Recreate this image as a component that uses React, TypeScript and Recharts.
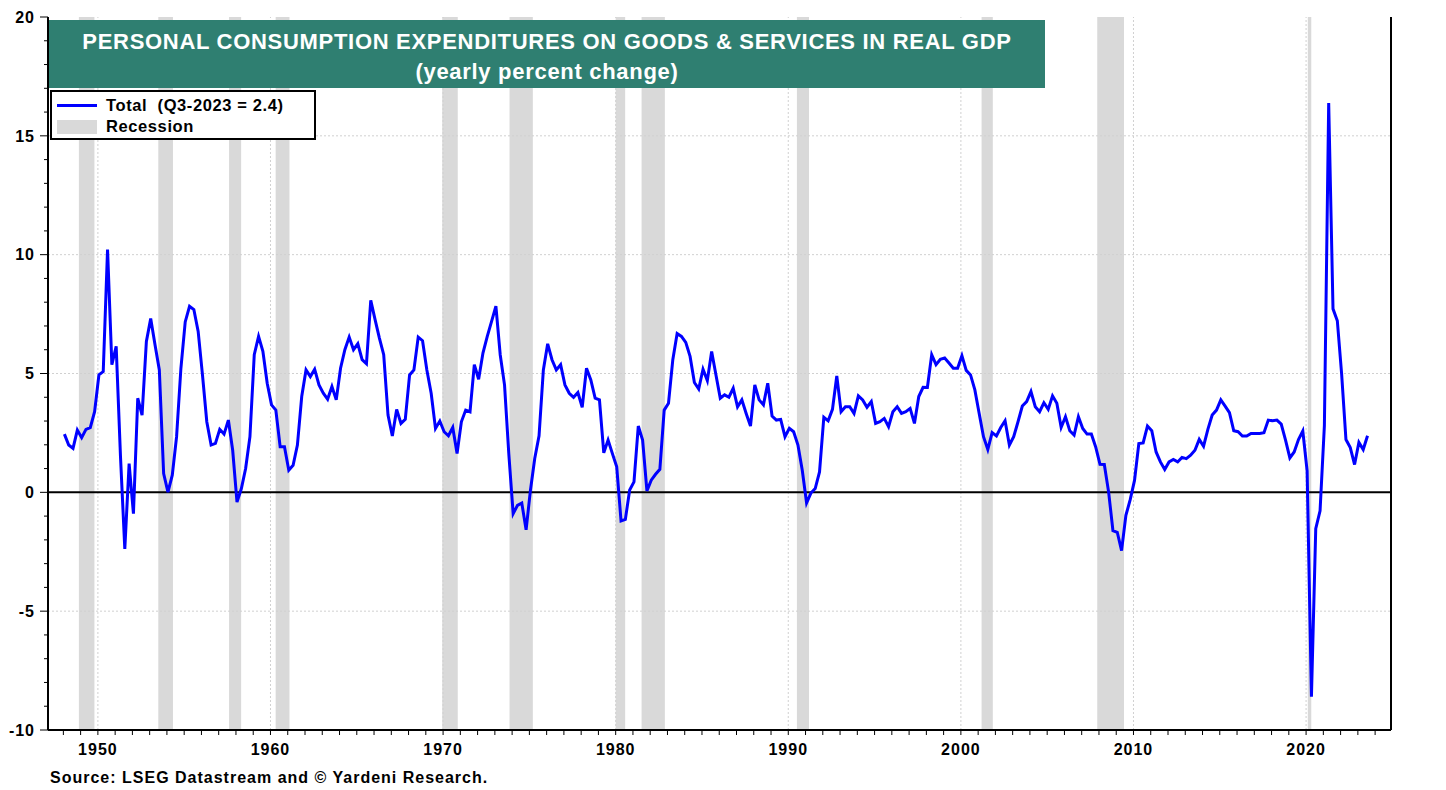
import {
  CartesianGrid,
  Line,
  LineChart,
  ReferenceArea,
  ReferenceLine,
  XAxis,
  YAxis,
} from 'recharts'

// quarterly yoy % change, 1948Q1 .. 2023Q3
const START_YEAR = 1948
const PCE_YOY = [
  2.45, 1.99, 1.85, 2.62, // 1948
  2.3, 2.65, 2.72, 3.39,
  4.94, 5.08, 10.22, 5.37, // 1950
  6.14, 1.5, -2.38, 1.21,
  -0.9, 3.96, 3.25, 6.35,
  7.31, 6.21, 5.15, 0.79,
  0.01, 0.72, 2.34, 5.22,
  7.17, 7.83, 7.69, 6.77, // 1955
  4.94, 2.97, 1.99, 2.06,
  2.65, 2.45, 3.04, 1.77,
  -0.41, 0.15, 1.0, 2.34,
  5.79, 6.56, 5.93, 4.59,
  3.68, 3.46, 1.92, 1.92, // 1960
  0.93, 1.14, 1.99, 4.03,
  5.15, 4.87, 5.18, 4.52,
  4.17, 3.92, 4.45, 3.89,
  5.22, 6.0, 6.53, 6.0,
  6.25, 5.58, 5.41, 8.08, // 1965
  7.27, 6.49, 5.79, 3.25,
  2.37, 3.49, 2.9, 3.07,
  4.94, 5.15, 6.53, 6.38,
  5.15, 4.17, 2.69, 3.0,
  2.55, 2.38, 2.73, 1.63, // 1970
  2.97, 3.46, 3.39, 5.37,
  4.76, 5.86, 6.56, 7.19,
  7.83, 5.79, 4.52, 1.6,
  -0.9, -0.55, -0.45, -1.58,
  0.08, 1.42, 2.38, 5.15, // 1975
  6.25, 5.58, 5.15, 5.37,
  4.52, 4.17, 4.0, 4.2,
  3.58, 5.22, 4.73, 3.96,
  3.89, 1.66, 2.2, 1.63,
  1.07, -1.2, -1.14, 0.1, // 1980
  0.44, 2.79, 2.2, 0.06,
  0.51, 0.76, 0.97, 3.46,
  3.75, 5.58, 6.68, 6.56,
  6.31, 5.72, 4.62, 4.35,
  5.18, 4.7, 5.93, 4.94, // 1985
  3.96, 4.1, 4.0, 4.38,
  3.6, 3.89, 3.32, 2.79,
  4.52, 3.89, 3.68, 4.59,
  3.21, 3.04, 3.07, 2.34,
  2.69, 2.55, 1.99, 0.93, // 1990
  -0.45, -0.03, 0.16, 0.86,
  3.16, 3.01, 3.49, 4.9,
  3.39, 3.6, 3.6, 3.32,
  4.06, 3.89, 3.58, 3.82,
  2.9, 2.97, 3.11, 2.76, // 1995
  3.39, 3.6, 3.32, 3.39,
  3.53, 2.9, 4.03, 4.42,
  4.41, 5.79, 5.37, 5.6,
  5.65, 5.44, 5.22, 5.22,
  5.75, 5.13, 4.94, 4.31, // 2000
  3.32, 2.34, 1.8, 2.51,
  2.37, 2.73, 3.01, 1.99,
  2.34, 2.97, 3.63, 3.82,
  4.24, 3.6, 3.39, 3.77,
  3.49, 4.06, 3.75, 2.73, // 2005
  3.18, 2.59, 2.41, 3.18,
  2.69, 2.45, 2.45, 1.91,
  1.18, 1.17, 0.01, -1.61,
  -1.68, -2.45, -0.97, -0.31,
  0.5, 2.05, 2.08, 2.79, // 2010
  2.59, 1.7, 1.28, 0.96,
  1.28, 1.38, 1.28, 1.47,
  1.42, 1.56, 1.77, 2.23,
  1.94, 2.65, 3.25, 3.46,
  3.89, 3.63, 3.35, 2.59, // 2015
  2.55, 2.37, 2.37, 2.48,
  2.48, 2.48, 2.51, 3.04,
  3.01, 3.04, 2.87, 2.2,
  1.45, 1.7, 2.22, 2.58,
  0.9, -8.6, -1.53, -0.78, // 2020
  2.8, 16.38, 7.72, 7.22,
  4.97, 2.22, 1.88, 1.17,
  2.1, 1.8, 2.38,
]

// recession periods (fractional years)
const RECESSION_START = [1948.9, 1953.5, 1957.6, 1960.3, 1969.95, 1973.85, 1980.0, 1981.5, 1990.5, 2001.2, 2007.9, 2020.1]
const RECESSION_END = [1949.8, 1954.35, 1958.3, 1961.1, 1970.85, 1975.2, 1980.55, 1982.85, 1991.2, 2001.85, 2009.45, 2020.3]

const YEAR_TICKS = Array.from({ length: 2024 - 1948 + 1 }, (_, i) => 1948 + i)
const DECADES = [1950, 1960, 1970, 1980, 1990, 2000, 2010, 2020]
const VALUE_TICKS = Array.from({ length: 31 }, (_, i) => -10 + i)
const GRID_VALUES = [-5, 5, 10, 15]

const chartData = PCE_YOY.map((v, i) => ({
  x: START_YEAR + Math.floor(i / 4) + (i % 4) * 0.25 + 0.06,
  v,
}))

const FONT = '"Liberation Sans", Arial, sans-serif'
const labelStyle = { fill: '#000', fontSize: 16, fontWeight: 'bold', fontFamily: FONT, letterSpacing: 1 }

// y-axis tick: long mark + label every 5, short mark otherwise
const ValueTick = ({ x, y, payload, side }: any) => {
  const major = payload.value % 5 === 0
  const len = major ? 8 : 4
  const dir = side === 'left' ? -1 : 1
  return (
    <g>
      <line x1={x} x2={x + dir * len} y1={y} y2={y} stroke="#000" strokeWidth={1} />
      {major && (
        <text
          x={x + dir * (side === 'left' ? 13 : 11)}
          y={y}
          dy="0.36em"
          textAnchor={side === 'left' ? 'end' : 'start'}
          {...labelStyle}
        >
          {payload.value}
        </text>
      )}
    </g>
  )
}

export default function App() {
  return (
    <div style={{ position: 'relative', width: 1446, height: 790, background: '#fff', fontFamily: FONT }}>
      <style>{'body{margin:0}'}</style>
      <LineChart width={1446} height={790} data={chartData} margin={{ top: 17, right: 10, bottom: 20, left: 8 }}>
        <CartesianGrid stroke="none" />
        {RECESSION_START.map((s, i) => (
          <ReferenceArea key={`rec-${i}`} yAxisId="l" x1={s} x2={RECESSION_END[i]} fill="#d9d9d9" fillOpacity={1} stroke="none" />
        ))}
        {GRID_VALUES.map((g) => (
          <ReferenceLine key={`gy-${g}`} yAxisId="l" y={g} stroke="#d0d0d0" strokeDasharray="2 2" />
        ))}
        {DECADES.map((d) => (
          <ReferenceLine key={`gx-${d}`} yAxisId="l" x={d} stroke="#d0d0d0" strokeDasharray="2 2" />
        ))}
        <ReferenceLine yAxisId="l" y={0} stroke="#000" strokeWidth={2} />
        <XAxis
          type="number"
          dataKey="x"
          domain={[1947.11, 2024.92]}
          ticks={YEAR_TICKS}
          interval={0}
          tickFormatter={(t: number) => (t % 10 === 0 ? String(t) : '')}
          tick={labelStyle}
          tickSize={5}
          tickMargin={9}
          height={40}
          axisLine={{ stroke: '#000', strokeWidth: 2 }}
          tickLine={{ stroke: '#000' }}
        />
        <YAxis
          yAxisId="l"
          domain={[-10, 20]}
          ticks={VALUE_TICKS}
          interval={0}
          tick={<ValueTick side="left" />}
          tickSize={0}
          tickMargin={0}
          tickLine={false}
          width={40}
          axisLine={{ stroke: '#000', strokeWidth: 2 }}
        />
        <YAxis
          yAxisId="r"
          orientation="right"
          domain={[-10, 20]}
          ticks={VALUE_TICKS}
          interval={0}
          tick={<ValueTick side="right" />}
          tickSize={0}
          tickMargin={0}
          tickLine={false}
          width={45}
          axisLine={{ stroke: '#000', strokeWidth: 2 }}
        />
        <Line
          yAxisId="l"
          type="linear"
          dataKey="v"
          stroke="#0000ff"
          strokeWidth={3}
          dot={false}
          isAnimationActive={false}
        />
      </LineChart>

      <div
        style={{
          position: 'absolute',
          left: 49,
          top: 20,
          width: 996,
          height: 68,
          background: '#2f7f71',
          color: '#fff',
          fontWeight: 'bold',
          fontSize: 22,
          letterSpacing: 0.7,
          textAlign: 'center',
          lineHeight: '30px',
          paddingTop: 7,
          boxSizing: 'border-box',
        }}
      >
        <div>PERSONAL CONSUMPTION EXPENDITURES ON GOODS &amp; SERVICES IN REAL GDP</div>
        <div>(yearly percent change)</div>
      </div>

      <div
        style={{
          position: 'absolute',
          left: 50,
          top: 90,
          width: 266,
          height: 50,
          background: '#fff',
          border: '2px solid #000',
          boxSizing: 'border-box',
          fontWeight: 'bold',
          fontSize: 16.5,
          letterSpacing: 0.6,
          color: '#000',
        }}
      >
        <div style={{ display: 'flex', alignItems: 'center', height: 21, marginTop: 3 }}>
          <span style={{ display: 'inline-block', width: 40, height: 3, background: '#0000ff', marginLeft: 5, marginRight: 9 }} />
          <span style={{ whiteSpace: 'pre' }}>Total  (Q3-2023 = 2.4)</span>
        </div>
        <div style={{ display: 'flex', alignItems: 'center', height: 21 }}>
          <span style={{ display: 'inline-block', width: 40, height: 14, background: '#d9d9d9', marginLeft: 5, marginRight: 9 }} />
          <span>Recession</span>
        </div>
      </div>

      <div
        style={{
          position: 'absolute',
          left: 50,
          top: 769,
          fontWeight: 'bold',
          fontSize: 16,
          letterSpacing: 1,
          lineHeight: '18px',
          color: '#000',
        }}
      >
        Source: LSEG Datastream and © Yardeni Research.
      </div>
    </div>
  )
}
